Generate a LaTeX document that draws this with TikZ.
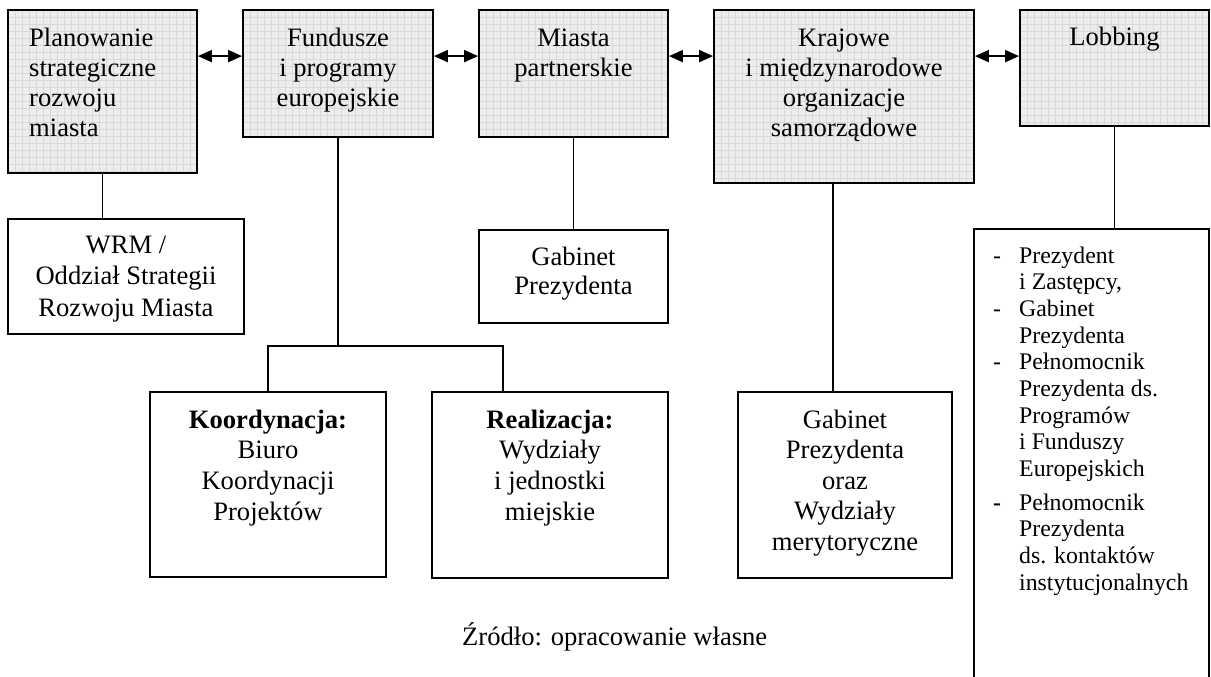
\documentclass[tikz,border=0pt]{standalone}
\usepackage{fontspec}
\setmainfont{Liberation Serif}
\usetikzlibrary{arrows.meta,calc}

% multi-line text whose baseline is that of its first line
\newcommand{\stack}[2][c]{\begin{tabular}[t]{@{}#1@{}}#2\end{tabular}}
\newcommand{\boxfont}{\fontsize{26.6pt}{29.8pt}\selectfont}
\newcommand{\listfont}{\fontsize{23.8pt}{26.7pt}\selectfont}
\newcommand{\dashitem}[1]{\makebox[26pt][l]{#1}}

\begin{document}
\begin{tikzpicture}[x=1pt,y=-1pt,
  box/.style={draw, line width=1.8pt, inner sep=0pt, rectangle},
  shaded/.style={box, fill=black!7, path picture={
    \foreach \i in {0,7,...,280}{
      \draw[black!15,line width=0.5pt]
        ([xshift=\i pt]path picture bounding box.north west) --
        ([xshift=\i pt]path picture bounding box.south west);
      \draw[black!15,line width=0.5pt]
        ([yshift=-\i pt]path picture bounding box.north west) --
        ([yshift=-\i pt]path picture bounding box.north east);}
  }},
  txt/.style={inner sep=0pt, font=\boxfont},
  conn/.style={line width=1.8pt},
  biarrow/.style={line width=1.8pt,
    {Triangle[length=14pt,width=12pt]}-{Triangle[length=14pt,width=12pt]}}
]
\useasboundingbox (0,0) rectangle (1211,677);

% top row of shaded boxes
\node[shaded, minimum width=189pt, minimum height=163pt] (b1) at (102.5,91.5) {};
\node[shaded, minimum width=190pt, minimum height=127pt] (b2) at (338,73.5) {};
\node[shaded, minimum width=189pt, minimum height=127pt] (b3) at (573.5,73.5) {};
\node[shaded, minimum width=260pt, minimum height=173pt] (b4) at (844,96.5) {};
\node[shaded, minimum width=189pt, minimum height=116pt] (b5) at (1114.5,68) {};

\node[txt, anchor=base west] (t1) at (29,47) {\stack[l]{Planowanie\\strategiczne\\rozwoju\\miasta}};
\node[txt, anchor=base] (t2) at (338,47) {\stack{Fundusze\\i programy\\europejskie}};
\node[txt, anchor=base] (t3) at (573.5,47) {\stack{Miasta\\partnerskie}};
\node[txt, anchor=base] (t4) at (844,47) {\stack{Krajowe\\i międzynarodowe\\organizacje\\samorządowe}};
\node[txt, anchor=base] (t5) at (1114.5,46) {Lobbing};

% lower boxes
\node[box, minimum width=236pt, minimum height=115pt] (wrm) at (126,276.5) {};
\node[box, minimum width=189pt, minimum height=93pt] (gab1) at (573.5,276.5) {};
\node[box, minimum width=236pt, minimum height=185pt] (koord) at (268,484.5) {};
\node[box, minimum width=236pt, minimum height=186pt] (real) at (550,485) {};
\node[box, minimum width=214pt, minimum height=186pt] (gab2) at (845,485) {};
\node[box, minimum width=235pt, minimum height=471pt] (lst) at (1091.5,464.5) {};

\node[txt, anchor=base, font=\fontsize{26.6pt}{31.5pt}\selectfont] (twrm) at (126,253)
  {\stack{WRM /\\Oddział Strategii\\Rozwoju Miasta}};
\node[txt, anchor=base] (tgab1) at (573.5,265) {\stack{Gabinet\\Prezydenta}};
\node[txt, anchor=base, font=\fontsize{26.6pt}{30.7pt}\selectfont] (tkoord) at (268,428)
  {\stack{\textbf{Koordynacja:}\\Biuro\\Koordynacji\\Projektów}};
\node[txt, anchor=base, font=\fontsize{26.6pt}{30.7pt}\selectfont] (treal) at (550,428)
  {\stack{\textbf{Realizacja:}\\Wydziały\\i jednostki\\miejskie}};
\node[txt, anchor=base, font=\fontsize{26.6pt}{30.5pt}\selectfont] (tgab2) at (845,428)
  {\stack{Gabinet\\Prezydenta\\oraz\\Wydziały\\merytoryczne}};

\node[inner sep=0pt, anchor=base west, font=\listfont] (items) at (993,263)
  {\begin{tabular}[t]{@{}l@{}l@{}}
   \dashitem{-} & Prezydent\\
   & i Zastępcy,\\
   \dashitem{-} & Gabinet\\
   & Prezydenta\\
   \dashitem{-} & Pełnomocnik\\
   & Prezydenta ds.\\
   & Programów\\
   & i Funduszy\\
   & Europejskich\\[6.7pt]
   \dashitem{\textbf{-}} & Pełnomocnik\\
   & Prezydenta\\
   & ds. kontaktów\\
   & instytucjonalnych
   \end{tabular}};

\node[txt, anchor=base west] (src) at (462,645) {Źródło: opracowanie własne};

% two-way links between the top boxes
\draw[biarrow] ($(b1.north east)+(0,47)$) -- ($(b2.north west)+(0,47)$);
\draw[biarrow] ($(b2.north east)+(0,47)$) -- ($(b3.north west)+(0,47)$);
\draw[biarrow] ($(b3.north east)+(0,47)$) -- ($(b4.north west)+(0,47)$);
\draw[biarrow] ($(b4.north east)+(0,47)$) -- ($(b5.north west)+(0,47)$);

% vertical links
\draw[conn] (b1.south) -- (b1.south |- wrm.north);
\draw[conn] (b3.south) -- (b3.south |- gab1.north);
\coordinate (fj) at (338,346);
\coordinate (rj) at ([xshift=-47pt]real.north);
\draw[conn] (b2.south) -- (fj);
\draw[conn] (koord.north) |- (fj) -| (rj);
\coordinate (b4s) at ([xshift=-11pt]b4.south);
\draw[conn] (b4s) -- (b4s |- gab2.north);
\draw[conn] (b5.south) -- (b5.south |- lst.north);
\end{tikzpicture}
\end{document}
